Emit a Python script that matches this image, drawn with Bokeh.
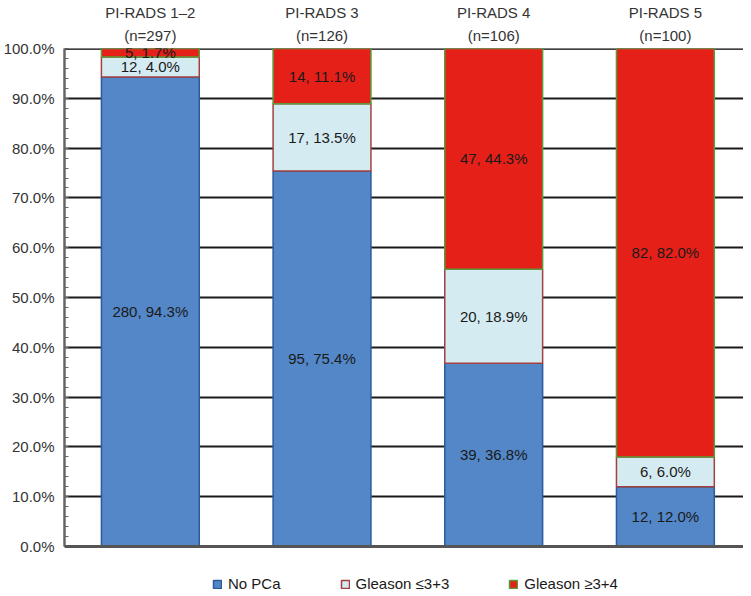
import numpy as np
from bokeh.plotting import figure
from bokeh.models import (ColumnDataSource, LinearAxis, FixedTicker, SingleIntervalTicker,
                          Legend, LegendItem, Range1d, Span, CustomJSTickFormatter)
from bokeh.core.properties import value
from bokeh.embed import file_html
from bokeh.resources import INLINE

categories = ["PI-RADS 1–2", "PI-RADS 3", "PI-RADS 4", "PI-RADS 5"]
n_totals = [297, 126, 106, 100]
series_names = ["No PCa", "Gleason ≤3+3", "Gleason ≥3+4"]
no_pca_n = [280, 95, 39, 12]
no_pca_pct = [94.3, 75.4, 36.8, 12.0]
g33_n = [12, 17, 20, 6]
g33_pct = [4.0, 13.5, 18.9, 6.0]
g34_n = [5, 14, 47, 82]
g34_pct = [1.7, 11.1, 44.3, 82.0]

fills = ["#5387C7", "#D4EBF2", "#E52019"]
lines = ["#2B5B9B", "#A2413F", "#5A9A3A"]

FONT = "Liberation Sans"
FS = "15px"
xs = np.arange(len(categories))

p = figure(width=743, height=596, output_backend="svg", toolbar_location=None,
           x_range=Range1d(-0.5, 3.455), y_range=Range1d(-10.02, 100),
           min_border_left=56, min_border_right=0, min_border_top=47, min_border_bottom=0,
           x_axis_location=None, y_axis_location=None)
p.outline_line_color = None
p.background_fill_color = "white"

# y axis
yax = LinearAxis(ticker=SingleIntervalTicker(interval=10, num_minor_ticks=5), bounds=(0, 100))
yax.formatter = CustomJSTickFormatter(code="return tick.toFixed(1) + '%';")
yax.axis_line_color = "#666666"
yax.axis_line_width = 2.5
yax.major_tick_line_color = None
yax.minor_tick_in = 4
yax.minor_tick_out = 0
yax.minor_tick_line_color = "#666666"
yax.minor_tick_line_width = 1
yax.major_label_standoff = 4
yax.major_label_text_font = FONT
yax.major_label_text_font_size = FS
yax.major_label_text_color = "#333333"
p.add_layout(yax, "left")

# top category axes: (n=...) line nearest the frame, then category names
def top_axis(labels, standoff):
    ax = LinearAxis(ticker=FixedTicker(ticks=list(xs)))
    ax.major_label_overrides = {int(i): t for i, t in zip(xs, labels)}
    ax.axis_line_color = None
    ax.major_tick_line_color = None
    ax.minor_tick_line_color = None
    ax.major_tick_in = 0
    ax.major_tick_out = 0
    ax.major_label_standoff = standoff
    ax.major_label_text_font = FONT
    ax.major_label_text_font_size = FS
    ax.major_label_text_color = "#333333"
    return ax

p.add_layout(top_axis([f"(n={n})" for n in n_totals], 5), "above")
p.add_layout(top_axis(categories, 3), "above")

# grid
p.ygrid.ticker = SingleIntervalTicker(interval=10)
p.ygrid.bounds = (0, 100)
p.ygrid.grid_line_color = "#1a1a1a"
p.ygrid.grid_line_width = 1.8
p.xgrid.grid_line_color = None
p.add_layout(Span(location=100, dimension="width", line_color="black", line_width=2.5, level="underlay"))

bottoms = [np.zeros(4), np.array(no_pca_pct), np.array(no_pca_pct) + np.array(g33_pct)]
pcts = [np.array(no_pca_pct), np.array(g33_pct), np.array(g34_pct)]
counts = [no_pca_n, g33_n, g34_n]
renderers = []
for k in range(3):
    bot = bottoms[k]
    top = bot + pcts[k]
    if k == 2:
        top = np.full(4, 100.0)
    src = ColumnDataSource(dict(x=xs, bottom=bot, top=top,
                                mid=(bot + top) / 2,
                                label=[f"{c}, {v:.1f}%" for c, v in zip(counts[k], pcts[k])]))
    r = p.vbar(x="x", bottom="bottom", top="top", width=0.57, source=src,
               fill_color=fills[k], line_color=lines[k], line_width=1.5)
    renderers.append(r)
    p.text(x="x", y="mid", text="label", source=src, text_align="center", text_baseline="middle",
           text_font=value(FONT), text_font_size=FS, text_color="#1a1a1a")

p.add_layout(Span(location=0, dimension="width", line_color="#555555", line_width=3))

legend = Legend(items=[LegendItem(label=s, renderers=[r]) for s, r in zip(series_names, renderers)],
                orientation="horizontal", location=(148, 4), spacing=59,
                glyph_width=10, glyph_height=10, label_standoff=6, label_height=15,
                padding=0, margin=0, border_line_color=None, background_fill_alpha=0,
                label_text_font=FONT, label_text_font_size=FS, label_text_color="#1a1a1a")
p.add_layout(legend, "center")

open("out.html", "w").write(file_html(p, INLINE))
